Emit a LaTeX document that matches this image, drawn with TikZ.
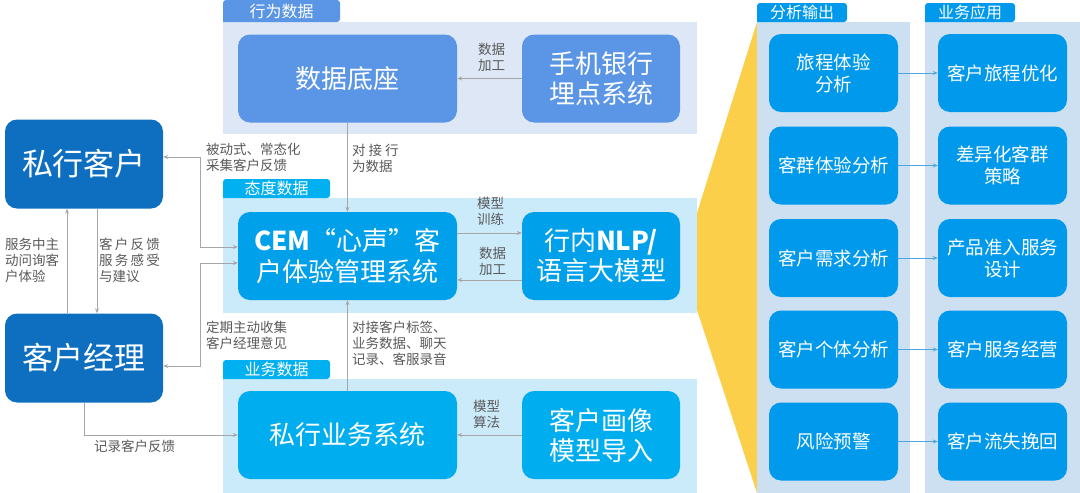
\documentclass[tikz,border=0pt]{standalone}
\usepackage{fontspec}
\setmainfont{Noto Sans CJK SC}
\usetikzlibrary{arrows.meta}
\definecolor{dkblue}{HTML}{0E6FC0}
\definecolor{behbox}{HTML}{5B95E5}
\definecolor{behbg}{HTML}{DDE7F6}
\definecolor{attbg}{HTML}{CCEBFA}
\definecolor{attbox}{HTML}{00A0EA}
\definecolor{atttab}{HTML}{00B0F0}
\definecolor{busbox}{HTML}{00AEEF}
\definecolor{yel}{HTML}{FBCF4A}
\definecolor{rbg}{HTML}{CCE0F1}
\definecolor{rbox}{HTML}{0099EC}
\definecolor{lgray}{HTML}{A6A6A6}
\definecolor{tgray}{HTML}{595959}
\definecolor{rarrow}{HTML}{4DA6E0}
\newcommand{\gp}{\hspace{2.2pt}}
\tikzset{
  box/.style={rectangle, rounded corners=12pt, text=white, align=center, inner sep=0pt},
  bigbox/.style={box, minimum width=219pt, minimum height=88pt, font=\fontsize{26}{31}\selectfont},
  sidebox/.style={box, minimum width=158pt, minimum height=88pt, font=\fontsize{26}{30}\selectfont},
  peoplebox/.style={box, fill=dkblue, minimum width=158pt, minimum height=89pt, font=\fontsize{31}{34}\selectfont},
  rbx/.style={box, fill=rbox, minimum width=129pt, minimum height=78pt, font=\fontsize{18.5}{22}\selectfont},
  tabtext/.style={text=white, font=\fontsize{16}{18}\selectfont, inner sep=0pt},
  lbl/.style={text=tgray, font=\fontsize{13.5}{16}\selectfont, align=left, inner sep=0pt, anchor=north west},
  conn/.style={draw=lgray, line width=0.9pt, -{Stealth[length=5pt,width=4pt]}},
  bconn/.style={draw=lgray, line width=0.9pt, {Stealth[length=5pt,width=4pt]}-{Stealth[length=5pt,width=4pt]}},
  rconn/.style={draw=rarrow, line width=0.9pt, -{Stealth[length=5pt,width=4pt]}}
}
\begin{document}
\begin{tikzpicture}[x=1pt,y=-1pt]
\useasboundingbox (0,0) rectangle (1080,493);
% backgrounds
\fill[behbg] (223,22) rectangle (697,134);
\fill[attbg] (223,198) rectangle (697,313);
\fill[attbg] (223,379) rectangle (697,493);
\fill[yel] (757,22) -- (697,213) -- (697,310) -- (757,493) -- cycle;
\fill[rbg] (757,22) rectangle (910,493);
\fill[rbg] (925,22) rectangle (1080,493);
% tabs
\fill[behbox, rounded corners=3pt] (223,22) -- (223,0) -- (340,0) -- (340,22) [sharp corners] -- cycle;
\node[tabtext] (t1) at (281.5,11) {行为数据};
\fill[atttab, rounded corners=3pt] (223,198) -- (223,179) -- (330,179) -- (330,198) [sharp corners] -- cycle;
\node[tabtext] (t2) at (276.5,188.5) {态度数据};
\fill[atttab, rounded corners=3pt] (223,379) -- (223,360) -- (330,360) -- (330,379) [sharp corners] -- cycle;
\node[tabtext] (t3) at (276.5,369.5) {业务数据};
\fill[rbox, rounded corners=3pt] (757,22) -- (757,3) -- (847,3) -- (847,22) [sharp corners] -- cycle;
\node[tabtext] (t4) at (802,12.5) {分析输出};
\fill[rbox, rounded corners=3pt] (925,22) -- (925,3) -- (1015,3) -- (1015,22) [sharp corners] -- cycle;
\node[tabtext] (t5) at (970,12.5) {业务应用};
% left people
\node[peoplebox] (kh) at (84,164) {私行客户};
\node[peoplebox] (jl) at (84,358) {客户经理};
% middle boxes
\node[bigbox, fill=behbox] (base) at (347.5,78.5) {数据底座};
\node[sidebox, fill=behbox] (phone) at (601,78.5) {手机银行\\埋点系统};
\node[bigbox, fill=attbox] (cem) at (347.5,256) {\textbf{CEM}“心声”客\\户体验管理系统};
\node[sidebox, fill=attbox] (nlp) at (601,256) {行内\textbf{NLP/}\\语言大模型};
\node[bigbox, fill=busbox] (biz) at (347.5,435) {私行业务系统};
\node[sidebox, fill=busbox] (port) at (601,435) {客户画像\\模型导入};
% right boxes
\node[rbx] (a1) at (833.5,73) {旅程体验\\分析};
\node[rbx] (a2) at (833.5,165.5) {客群体验分析};
\node[rbx] (a3) at (833.5,258) {客户需求分析};
\node[rbx] (a4) at (833.5,349.5) {客户个体分析};
\node[rbx] (a5) at (833.5,441.5) {风险预警};
\node[rbx] (b1) at (1002.5,73) {客户旅程优化};
\node[rbx] (b2) at (1002.5,165.5) {差异化客群\\策略};
\node[rbx] (b3) at (1002.5,258) {产品准入服务\\设计};
\node[rbx] (b4) at (1002.5,349.5) {客户服务经营};
\node[rbx] (b5) at (1002.5,441.5) {客户流失挽回};
% connectors
\draw[conn] ([xshift=-17pt]jl.north) -- ([xshift=-17pt]kh.south);
\draw[conn] ([xshift=13pt]kh.south) -- ([xshift=13pt]jl.north);
\draw[bconn] ([yshift=7pt]kh.east) -- ++(37,0) |- ([yshift=9pt]cem.west);
\draw[bconn] ([yshift=-8pt]jl.east) -- ++(37,0) |- ([yshift=-7pt]cem.west);
\draw[conn] (jl.south) |- (biz.west);
\draw[conn] (phone.west) -- (base.east);
\draw[conn] (base.south) -- (cem.north);
\draw[conn] (biz.north) -- (cem.south);
\draw[conn] ([yshift=23pt]cem.east) -- ([yshift=23pt]nlp.west);
\draw[conn] ([yshift=-24pt]nlp.west) -- ([yshift=-24pt]cem.east);
\draw[conn] (port.west) -- (biz.east);
\foreach \i in {1,...,5} {\draw[rconn] (a\i.east) -- (b\i.west);}
% labels
\node[lbl] (l1) at (5,238) {服务中主\\动问询客\\户体验};
\node[lbl] (l2) at (99,238) {客\gp 户\gp 反\gp 馈\\服\gp 务\gp 感\gp 受\\与建议};
\node[lbl] (l3) at (206,143) {被动式、常态化\\采集客户反馈};
\node[lbl] (l4) at (206,321) {定期主动收集\\客户经理意见};
\node[lbl, anchor=west] (l5) at (94,446) {记录客户反馈};
\node[lbl] (l6) at (352,144) {对\hspace{3pt}接\hspace{3pt}行\\为数据};
\node[lbl] (l7) at (352,321) {对接客户标签、\\业务数据、聊天\\记录、客服录音};
\node[lbl] (l8) at (478,43) {数据\\加工};
\node[lbl] (l9) at (477,197) {模型\\训练};
\node[lbl] (l10) at (479,247) {数据\\加工};
\node[lbl] (l11) at (473,400) {模型\\算法};
\end{tikzpicture}
\end{document}
